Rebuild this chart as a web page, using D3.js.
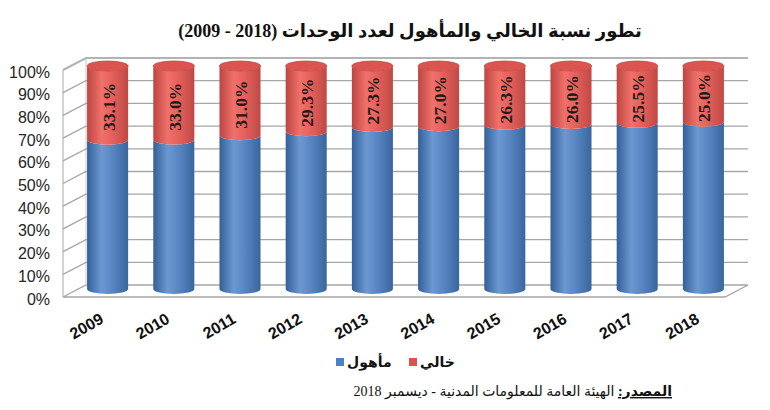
<!DOCTYPE html>
<html>
<head>
<meta charset="utf-8">
<script src="https://cdnjs.cloudflare.com/ajax/libs/d3/7.8.5/d3.min.js"></script>
<style>
	body { margin: 0; background: #fff; }
	svg { display: block; }
</style>
</head>
<body>
<script>
// The data
var years = ["2009", "2010", "2011", "2012", "2013", "2014", "2015", "2016", "2017", "2018"];
var khali = [33.1, 33.0, 31.0, 29.3, 27.3, 27.0, 26.3, 26.0, 25.5, 25.0];   // empty (red, on top)
var mahool = [66.9, 67.0, 69.0, 70.7, 72.7, 73.0, 73.7, 74.0, 74.5, 75.0];  // occupied (blue, bottom)
var yTicks = [0, 10, 20, 30, 40, 50, 60, 70, 80, 90, 100];

var titleText = "تطور نسبة الخالي والمأهول لعدد الوحدات (2018 - 2009)";
var legendNames = ["مأهول", "خالي"];
var sourceLabel = "المصدر:";
var sourceText = " الهيئة العامة للمعلومات المدنية - ديسمبر 2018";

// Width and height
var width = 770;
var height = 410;

// 3D depth of the plot box
var depth = {dx: 23, dy: -12};

var svg = d3.select("body")
			.append("svg")
			.attr("width", width)
			.attr("height", height);

// front plane scale, back wall scale and the middle one used for the cylinders
var yFront = d3.scaleLinear().domain([0, 100]).range([297, 70]);
var yBack = d3.scaleLinear().domain([0, 100]).range([297 + depth.dy, 70 + depth.dy]);
var yMid = d3.scaleLinear().domain([0, 100]).range([289, 66]);

var xFront = [63, 725];
var xScale = d3.scaleBand()
				.domain(years)
				.range([xFront[0] + depth.dx / 2, xFront[1] + depth.dx / 2]);

var cylW = xScale.bandwidth() * 0.62;
var rx = cylW / 2;
var ry = 5;

// Gradients for the cylinders
var defs = svg.append("defs");
function addGradient(id, stops) {
	var g = defs.append("linearGradient")
		.attr("id", id)
		.attr("x1", "0%").attr("x2", "100%")
		.attr("y1", "0%").attr("y2", "0%");
	stops.forEach(function(s) {
		g.append("stop").attr("offset", s[0]).attr("stop-color", s[1]);
	});
}
addGradient("blueBody", [["0%", "#34609a"], ["35%", "#6c98d1"], ["60%", "#5a87c3"], ["100%", "#3a669f"]]);
addGradient("redBody", [["0%", "#bd4541"], ["35%", "#f0716b"], ["60%", "#e6615c"], ["100%", "#bf4945"]]);

var grid = svg.append("g").attr("class", "grid");

// floor
grid.append("path")
	.attr("d", "M" + xFront[0] + "," + yFront(0) +
		"L" + xFront[1] + "," + yFront(0) +
		"L" + (xFront[1] + depth.dx) + "," + yBack(0) +
		"L" + (xFront[0] + depth.dx) + "," + yBack(0) + "Z")
	.style("fill", "#fff")
	.style("stroke", "#a6a6a6")
	.style("stroke-width", 1.3);

// left wall edges
grid.append("line")
	.attr("x1", xFront[0]).attr("x2", xFront[0])
	.attr("y1", yFront(0)).attr("y2", yFront(100))
	.style("stroke", "#b5b5b5").style("stroke-width", 1.2);
grid.append("line")
	.attr("x1", xFront[0] + depth.dx).attr("x2", xFront[0] + depth.dx)
	.attr("y1", yBack(0)).attr("y2", yBack(100))
	.style("stroke", "#c8c8c8").style("stroke-width", 1);

// gridlines on the left wall and the back wall
grid.selectAll("path.gl")
	.data(yTicks.filter(function(d) { return d > 0; }))
	.enter()
	.append("path")
	.attr("class", "gl")
	.attr("d", function(d) {
		return "M" + xFront[0] + "," + yFront(d) +
			"L" + (xFront[0] + depth.dx) + "," + yBack(d) +
			"L" + (xFront[1] + depth.dx) + "," + yBack(d);
	})
	.style("fill", "none")
	.style("stroke", function(d) { return d == 100 ? "#b3b3b3" : "#a6a6a6"; })
	.style("stroke-width", function(d) { return d == 100 ? 2 : 1.3; });

// Y axis labels
svg.append("g")
	.selectAll("text")
	.data(yTicks)
	.enter()
	.append("text")
	.attr("x", 50)
	.attr("y", function(d) { return yFront(d) + 2; })
	.attr("text-anchor", "end")
	.attr("dominant-baseline", "central")
	.style("font-family", "Arial, 'Liberation Sans', sans-serif")
	.style("font-size", "16px")
	.style("fill", "#262626")
	.text(function(d) { return d + "%"; });

// cylinder segment: from v0 to v1 (percent), lower half-ellipse on both ends
function segment(cx, v0, v1) {
	var y0 = yMid(v0), y1 = yMid(v1);
	return "M" + (cx - rx) + "," + y1 +
		"L" + (cx - rx) + "," + y0 +
		"A" + rx + "," + ry + " 0 0 0 " + (cx + rx) + "," + y0 +
		"L" + (cx + rx) + "," + y1 +
		"A" + rx + "," + ry + " 0 0 1 " + (cx - rx) + "," + y1 + "Z";
}

var rows = years.map(function(y, i) {
	return {year: y, mahool: mahool[i], khali: khali[i]};
});

var bars = svg.append("g").attr("class", "bars")
	.selectAll("g")
	.data(rows)
	.enter()
	.append("g");

function cx(d) { return xScale(d.year) + xScale.bandwidth() / 2; }

bars.append("path")
	.attr("d", function(d) { return segment(cx(d), 0, d.mahool); })
	.style("fill", "url(#blueBody)");

bars.append("path")
	.attr("d", function(d) { return segment(cx(d), d.mahool, d.mahool + d.khali); })
	.style("fill", "url(#redBody)");

// top of each cylinder
bars.append("ellipse")
	.attr("cx", cx)
	.attr("cy", function(d) { return yMid(d.mahool + d.khali); })
	.attr("rx", rx)
	.attr("ry", ry)
	.style("fill", "#db544f")
	.style("stroke", "#c24844")
	.style("stroke-width", 0.8);

// value labels in the red part
bars.append("text")
	.attr("transform", function(d) {
		var yc = (yMid(d.mahool) + yMid(d.mahool + d.khali)) / 2 + 4;
		return "translate(" + (cx(d) + 1) + "," + yc + ") rotate(-90)";
	})
	.attr("text-anchor", "middle")
	.attr("dominant-baseline", "central")
	.style("font-family", "'Times New Roman', 'Liberation Serif', serif")
	.style("font-weight", "bold")
	.style("font-size", "17.5px")
	.style("fill", "#1f1a1a")
	.text(function(d) { return d.khali.toFixed(1) + "%"; });

// X axis labels
svg.append("g")
	.selectAll("text")
	.data(years)
	.enter()
	.append("text")
	.attr("transform", function(d) {
		return "translate(" + (xScale(d) + xScale.bandwidth() / 2 - 3) + ",322) rotate(-30)";
	})
	.attr("text-anchor", "end")
	.style("font-family", "Arial, 'Liberation Sans', sans-serif")
	.style("font-weight", "bold")
	.style("font-size", "16px")
	.style("fill", "#111")
	.text(function(d) { return d; });

// Title
svg.append("text")
	.attr("x", 410)
	.attr("y", 37)
	.attr("text-anchor", "middle")
	.style("font-family", "'Times New Roman', 'Liberation Serif', 'DejaVu Sans', serif")
	.style("font-weight", "bold")
	.style("font-size", "18px")
	.style("fill", "#111")
	.text(titleText);

// Legend: square on the left, name to its right
var legendData = [
	{name: legendNames[0], color: "#4f81bd", x: 336},
	{name: legendNames[1], color: "#e0504c", x: 409}
];
var legend = svg.append("g").attr("class", "legend")
	.selectAll("g")
	.data(legendData)
	.enter()
	.append("g");
legend.append("rect")
	.attr("x", function(d) { return d.x; })
	.attr("y", 358)
	.attr("width", 8)
	.attr("height", 8)
	.style("fill", function(d) { return d.color; });
legend.append("text")
	.attr("x", function(d) { return d.x + 11; })
	.attr("y", 367)
	.attr("text-anchor", "start")
	.style("font-family", "Arial, 'DejaVu Sans', sans-serif")
	.style("font-weight", "bold")
	.style("font-size", "14px")
	.style("fill", "#111")
	.text(function(d) { return d.name; });

// Source line
var src = svg.append("text")
	.attr("x", 672)
	.attr("y", 396)
	.attr("direction", "rtl")
	.attr("text-anchor", "start")
	.style("font-family", "'Times New Roman', 'Liberation Serif', 'DejaVu Sans', serif")
	.style("font-size", "14px")
	.style("fill", "#111");
src.append("tspan")
	.style("font-weight", "bold")
	.style("text-decoration", "underline")
	.text(sourceLabel);
src.append("tspan")
	.text(sourceText);
</script>
</body>
</html>
